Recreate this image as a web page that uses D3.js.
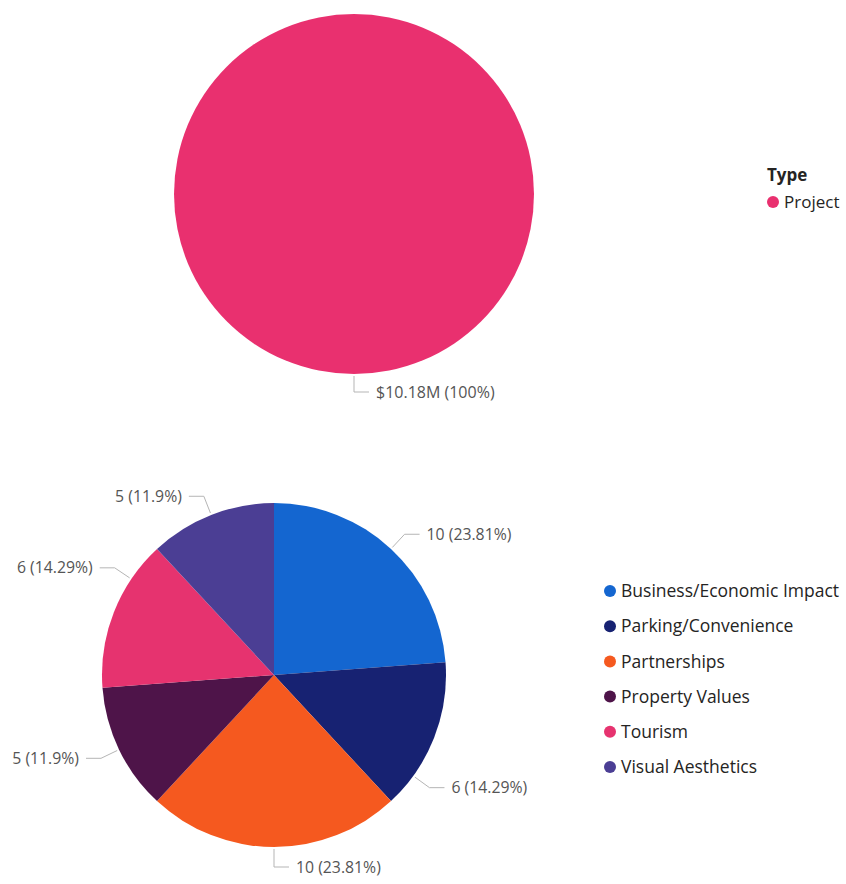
<!DOCTYPE html>
<html>
<head>
<meta charset="utf-8">
<script src="https://cdn.jsdelivr.net/npm/d3@7"></script>
<style>
  html, body { margin: 0; padding: 0; background: #fff; }
  svg { display: block; font-family: "Open Sans", "Noto Sans", sans-serif; }
</style>
</head>
<body>
<svg id="chart" width="846" height="884"></svg>
<script>
// ---- Data ----
const typeCategories = ["Project"];
const typeValues = [10.18];
const typeLabels = ["$10.18M (100%)"];
const typeColors = ["#E9306F"];

const impactCategories = ["Business/Economic Impact", "Parking/Convenience", "Partnerships", "Property Values", "Tourism", "Visual Aesthetics"];
const impactValues = [10, 6, 10, 5, 6, 5];
const impactLabels = ["10 (23.81%)", "6 (14.29%)", "10 (23.81%)", "5 (11.9%)", "6 (14.29%)", "5 (11.9%)"];
const impactColors = ["#1466D0", "#172272", "#F5591F", "#4E1449", "#E6336F", "#4B3E94"];

// ---- Layout (label angle nudges mimic the original's collision avoidance) ----
const labelAngleNudge = [0, 14.5, 0, 0, 12.5, 0]; // degrees

const svg = d3.select("#chart");
const labelColor = "#555555";
const leaderColor = "#b5b5b5";
const legendText = "#252423";

function drawPie(cfg) {
  const g = svg.append("g").attr("transform", `translate(${cfg.cx},${cfg.cy})`);
  const pie = d3.pie().sort(null).value(d => d.value);
  const arcs = pie(cfg.data);
  const arc = d3.arc().innerRadius(0).outerRadius(cfg.r);
  g.selectAll("path.slice").data(arcs).join("path")
    .attr("class", "slice")
    .attr("d", arc)
    .attr("fill", d => d.data.color);

  const pt = (a, rr) => [Math.sin(a) * rr, -Math.cos(a) * rr];
  arcs.forEach((d, i) => {
    const a = (d.startAngle + d.endAngle) / 2 + (cfg.nudge ? cfg.nudge[i] : 0) * Math.PI / 180;
    const p0 = pt(a, cfg.r + 2);
    const p1 = pt(a, cfg.r + cfg.dr);
    const right = Math.sin(a) >= -1e-6;
    const dir = right ? 1 : -1;
    const p2 = [p1[0] + dir * 15, p1[1]];
    g.append("polyline")
      .attr("points", [p0, p1, p2].map(p => p.join(",")).join(" "))
      .attr("fill", "none")
      .attr("stroke", leaderColor)
      .attr("stroke-width", 1);
    g.append("text")
      .attr("x", p1[0] + dir * 22)
      .attr("y", p1[1])
      .attr("dy", "0.35em")
      .attr("text-anchor", right ? "start" : "end")
      .attr("font-size", cfg.labelSize)
      .attr("fill", labelColor)
      .text(d.data.label);
  });
}

function drawLegend(cfg) {
  const g = svg.append("g");
  let y0 = cfg.y;
  if (cfg.title) {
    g.append("text")
      .attr("x", cfg.x - 6)
      .attr("y", y0 - 21)
      .attr("font-size", 17)
      .attr("font-weight", "bold")
      .attr("fill", legendText)
      .text(cfg.title);
  }
  const items = g.selectAll("g.item").data(cfg.items).join("g")
    .attr("class", "item")
    .attr("transform", (d, i) => `translate(${cfg.x},${y0 + i * cfg.step})`);
  items.append("circle").attr("r", 6).attr("fill", d => d.color);
  items.append("text")
    .attr("x", 11)
    .attr("dy", "0.35em")
    .attr("font-size", cfg.fontSize)
    .attr("fill", legendText)
    .text(d => d.name);
}

// Top pie
const typeData = typeCategories.map((c, i) => ({ name: c, value: typeValues[i], label: typeLabels[i], color: typeColors[i] }));
drawPie({ cx: 354, cy: 194, r: 180, data: typeData, dr: 18, labelSize: 16 });
drawLegend({ x: 773, y: 202, step: 35, title: "Type", items: typeData, fontSize: 17 });

// Bottom pie
const impactData = impactCategories.map((c, i) => ({ name: c, value: impactValues[i], label: impactLabels[i], color: impactColors[i] }));
drawPie({ cx: 274, cy: 675, r: 172, data: impactData, dr: 20, labelSize: 15.8, nudge: labelAngleNudge });
drawLegend({ x: 610, y: 591, step: 35.2, items: impactData, fontSize: 17.5 });
</script>
</body>
</html>
